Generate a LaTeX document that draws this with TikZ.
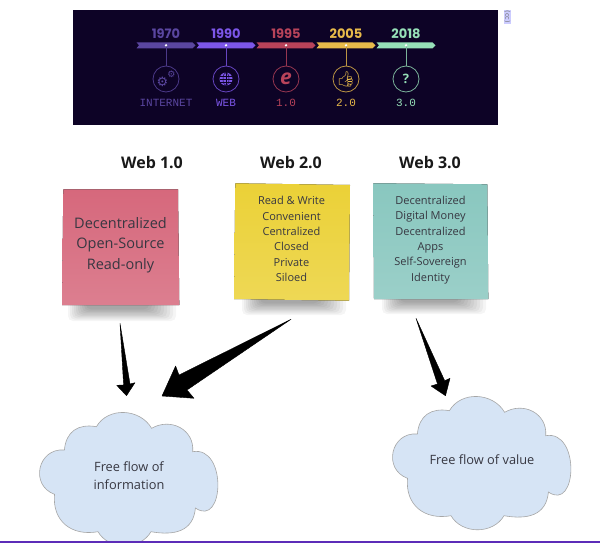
\documentclass[tikz,border=0pt]{standalone}
\usepackage{fontspec}
\setmainfont{Open Sans}
\newfontfamily\yearfont{Poppins}
\newfontfamily\monofont{Liberation Mono}
\newfontfamily\iconfont{Noto Emoji}
\newfontfamily\symfont{DejaVu Sans}
\usepackage{tikz}
\definecolor{BandColor}{RGB}{13,3,38}
\definecolor{InternetColor}{RGB}{90,70,160}
\definecolor{WebColor}{RGB}{124,86,232}
\definecolor{OneColor}{RGB}{184,67,90}
\definecolor{TwoColor}{RGB}{232,186,74}
\definecolor{ThreeColor}{RGB}{150,224,184}
\definecolor{CloudColor}{RGB}{214,228,245}
\definecolor{NoteTextColor}{RGB}{55,55,65}
\definecolor{RedNote}{RGB}{214,104,124}
\definecolor{YellowNote}{RGB}{235,209,55}
\definecolor{TealNote}{RGB}{137,199,191}
\definecolor{RuleColor}{RGB}{92,44,184}

\begin{document}
\begin{tikzpicture}[x=1pt,y=-1pt,
year/.style={text=#1,font=\yearfont\bfseries\fontsize{13}{13}\selectfont},
era/.style={text=#1,font=\monofont\fontsize{11}{11}\selectfont},
badge/.style={circle,draw=#1!80!BandColor,line width=0.8pt,minimum size=26pt,inner sep=0pt,text=#1},
title/.style={font=\bfseries\fontsize{16}{16}\selectfont,text=black!90},
notetext/.style n args={2}{align=center,text=NoteTextColor,font=\fontsize{#1}{#2}\selectfont},
flowtext/.style={align=center,text=NoteTextColor,font=\fontsize{12.8}{18}\selectfont},
pointer/.style={fill=black,draw=black,line width=0.4pt,line join=round},
flowcloud/.pic={
   \draw[draw=black!35,fill=CloudColor,line width=0.6pt] (-32.6,-50.3)
      to[out=60,in=120,looseness=1.07] (22.6,-48.7)
      to[out=30,in=85,looseness=1.2] (63.7,-25.3)
      to[out=10,in=-35,looseness=1.6] (66.4,31)
      to[out=-95,in=-10,looseness=1.2] (22,54.7)
      to[out=-120,in=-60,looseness=1.05] (-31,54.7)
      to[out=-170,in=-95,looseness=1.2] (-74.5,17.3)
      to[out=160,in=175,looseness=1.5] (-64.6,-27)
      to[out=85,in=170,looseness=1.2] cycle;
}]
\useasboundingbox (0,0) rectangle (600,543);
\fill[white] (0,0) rectangle (600,543);
% timeline band
\fill[BandColor] (72.5,10) rectangle (497.5,124.5);
\foreach \x/\yr/\lab/\col/\icon in %
{136.5/1970/INTERNET/InternetColor/{},196.5/1990/WEB/WebColor/{},256.5/1995/1.0/OneColor/{\bfseries\itshape\fontsize{21}{21}\selectfont e},316.5/2005/2.0/TwoColor/{\iconfont\fontsize{15}{15}\selectfont\symbol{"1F44D}},376.5/2018/3.0/ThreeColor/{\bfseries\fontsize{13}{13}\selectfont ?}} {
   \fill[\col] (\x,42.3) -- (\x+56,42.3) -- (\x+59,45.3) -- (\x+56,48.3) -- (\x,48.3) -- (\x+2.5,45.3) -- cycle;
   \node[year=\col] (y\yr) at (\x+29.5,33.5) {\yr};
   \node[badge=\col] (b\yr) at (\x+29.5,79) {\icon};
   \node[era=\col] (l\yr) at (\x+29.5,102.5) {\lab};
   \coordinate (d\yr) at (\x+29.5,45.3);
   \draw[\col!80!BandColor,line width=0.6pt] (d\yr) -- (b\yr);
   \fill[white] (d\yr) circle (1.3);
}
% icons that need more than one glyph
\node[text=InternetColor,inner sep=0pt,font=\symfont\fontsize{13}{13}\selectfont] (gear1) at (162.5,81.5) {\symbol{"2699}};
\node[text=InternetColor,inner sep=0pt,font=\symfont\fontsize{9}{9}\selectfont] (gear2) at (171.5,74.5) {\symbol{"2699}};
\fill[WebColor] (b1990.center) circle (6.5);
\draw[BandColor,line width=0.5pt] (b1990.center) ellipse (3 and 6.5);
\draw[BandColor,line width=0.5pt] (b1990.center) +(0,-6.5) -- +(0,6.5) +(-6.5,0) -- +(6.5,0) +(-5.7,-3) -- +(5.7,-3) +(-5.7,3) -- +(5.7,3);
\node[rotate=-90,fill=blue!20,text=black!55,font=\symfont\fontsize{6.5}{6.5}\selectfont,inner sep=0.4pt] (cc) at (507.5,17) {(cc)};
% headings
\node[title] (t1) at (152,163) {Web 1.0};
\node[title] (t2) at (291,163) {Web 2.0};
\node[title] (t3) at (430,163) {Web 3.0};
% soft shadows under the notes
\foreach \i in {0,1,...,9} {
   \fill[black,opacity=0.04,rounded corners=5] (68+\i*2,296) rectangle (176-\i*3,321-\i*1.3);
   \fill[black,opacity=0.04,rounded corners=5] (242+\i*2,290) rectangle (346-\i*3,315-\i*1.3);
   \fill[black,opacity=0.04,rounded corners=5] (382+\i*2,290) rectangle (486-\i*3,314-\i*1.3);
}
% notes
\fill[top color=RedNote,bottom color=RedNote!85!white] (63.3,189.3) -- (178,189.3) -- (179.3,305) -- (62,305) -- cycle;
\fill[top color=YellowNote,bottom color=YellowNote!85!white] (235.3,183.3) -- (350,185) -- (349,300.7) -- (234,299) -- cycle;
\fill[top color=TealNote,bottom color=TealNote!85!white] (373.3,183.3) -- (487.3,184.3) -- (488.3,299) -- (374,299) -- cycle;
\node[notetext={14.5}{20.3}] (n1) at (120.5,245) {Decentralized\\Open-Source\\Read-only};
\node[notetext={11}{15.4}] (n2) at (291.5,239) {Read \& Write\\Convenient\\Centralized\\Closed\\Private\\Siloed};
\node[notetext={11}{15.4}] (n3) at (430.5,240) {Decentralized\\Digital Money\\Decentralized\\Apps\\Self-Sovereign\\Identity};
% clouds
\pic (c1) at (129,477) {flowcloud};
\pic (c2) at (482,461) {flowcloud};
\node[flowtext] (f1) at (129,476) {Free flow of\\information};
\node[flowtext] (f2) at (482,460) {Free flow of value};
% arrows
\coordinate (a1) at (120,323.3); \coordinate (a2) at (126.5,395.7);
\coordinate (b1) at (291,319.3); \coordinate (b2) at (162,396);
\coordinate (e1) at (416,318.3); \coordinate (e2) at (445.5,395.7);
\draw[pointer] (a1) -- (123.6,385) -- (116.7,385.3) -- (a2) -- (135,382.7) -- (130,384) -- cycle;
\draw[pointer] (b1) -- (179,375) -- (175.6,366) -- (b2) -- (194,398.3) -- (187,390) -- cycle;
\draw[pointer] (e1) -- (437.5,384) -- (431,386) -- (e2) -- (450,378.3) -- (444.7,380.7) -- cycle;
% bottom rule
\fill[RuleColor] (0,541) rectangle (600,543);
\end{tikzpicture}
\end{document}
